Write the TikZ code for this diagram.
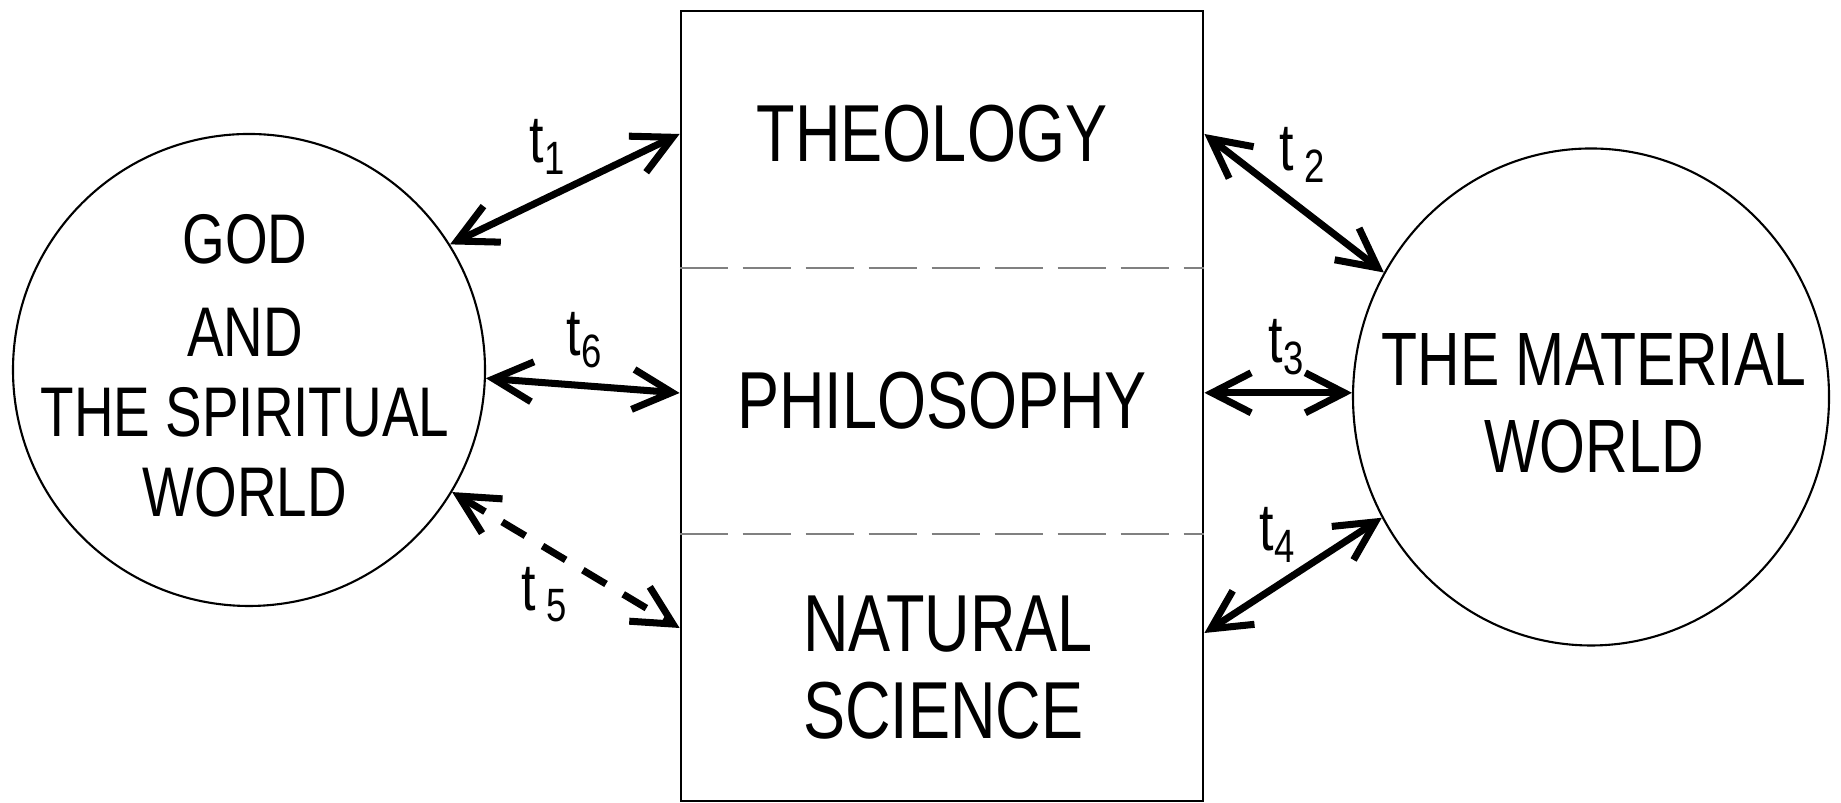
\documentclass[tikz,border=0pt]{standalone}
\usepackage{fontspec}
\setmainfont[FakeStretch=0.78]{Liberation Sans}
\usetikzlibrary{arrows.meta,shapes.geometric,calc}
\tikzset{
  world/.style={draw, ellipse, line width=0.6pt, inner sep=0pt},
  worldtext/.style={align=center, inner sep=0pt, font=\fontsize{20}{22.8}\selectfont},
  field/.style={align=center, inner sep=0pt, font=\fontsize{23}{24.75}\selectfont},
  divider/.style={gray, line width=0.8pt, dash pattern=on 4.8mm off 1.5mm},
  link/.style={{Straight Barb[length=3.9mm,width=4mm]}-{Straight Barb[length=3.9mm,width=4mm]}, line width=2pt},
  tlabel/.style={inner sep=0pt, font=\fontsize{19}{21}\selectfont}
}
\newcommand{\tsub}[1]{t\textsubscript{#1}}

\begin{document}
\begin{tikzpicture}[x=0.1mm,y=0.1mm]
  \useasboundingbox (0,0) rectangle (1841,803);

  % the two worlds
  \node[world, minimum width=47.2mm, minimum height=47.2mm] (god) at (249,433) {};
  \node[world, minimum width=47.6mm, minimum height=49.7mm] (mat) at (1591,406) {};
  \node[worldtext] (godtext) at (245,437) {GOD\\[3.7pt]AND\\THE SPIRITUAL\\WORLD};
  \node[worldtext, font=\fontsize{21.5}{24.75}\selectfont] (mattext) at (1594,400) {THE MATERIAL\\WORLD};

  % the three fields
  \node[draw, line width=0.8pt, minimum width=52.2mm, minimum height=79mm, inner sep=0pt] (frame) at (942,397) {};
  \node[field] (theo) at (932,669) {THEOLOGY};
  \node[field] (phil) at (942,402) {PHILOSOPHY};
  \node[field, align=left] (sci) at (948,135) {NATURAL\\SCIENCE};
  \draw[divider] (frame.west |- 0,535) -- (frame.east |- 0,535);
  \draw[divider] (frame.west |- 0,269) -- (frame.east |- 0,269);

  % links
  \draw[link] (god.32) -- (frame.west |- theo);
  \draw[link] (god.-2) -- ($(frame.west |- phil)+(0,8)$);
  \draw[link, dash pattern=on 2.7mm off 2mm] (god.-31) -- ($(frame.west |- sci)+(0,40)$);
  \draw[link] (frame.east |- theo) -- (mat.149);
  \draw[link] (frame.east |- mat.179) -- (mat.179);
  \draw[link] ($(frame.east |- sci)+(0,35)$) -- (mat.210);

  \node[tlabel] (t1) at (548,656) {\tsub{1}};
  \node[tlabel] (t2) at (1303,648) {t\,\textsubscript{2}};
  \node[tlabel] (t3) at (1287,456) {\tsub{3}};
  \node[tlabel] (t4) at (1278,268) {\tsub{4}};
  \node[tlabel] (t5) at (545,208) {t\,\textsubscript{5}};
  \node[tlabel] (t6) at (585,463) {\tsub{6}};
\end{tikzpicture}
\end{document}
